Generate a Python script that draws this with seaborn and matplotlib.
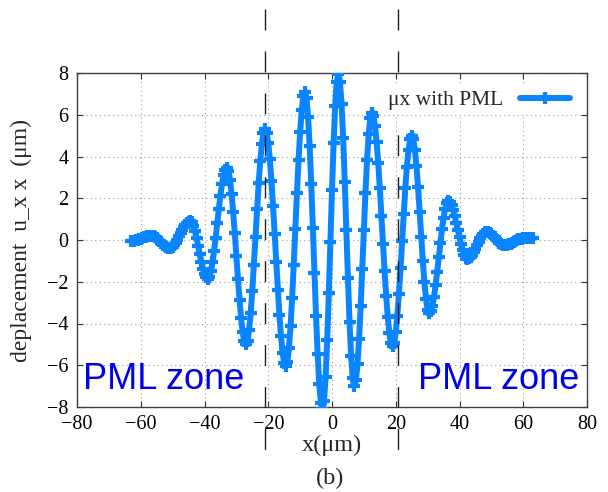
import numpy as np
import pandas as pd
import matplotlib
matplotlib.use("Agg")
import matplotlib.pyplot as plt
import matplotlib.transforms as mtransforms
import seaborn as sns

# ---- data ----
x_start, x_stop, x_step = -63.0, 63.0, 0.5
ux_pml = [
    -0.05, -0.05, -0.04, -0.02, 0.00, 0.03, 0.06, 0.09, 0.12, 0.15, 0.17, 0.19, 0.20, 0.20,
    0.19, 0.15, 0.10, 0.02, -0.06, -0.14, -0.22, -0.30, -0.35, -0.39, -0.40,
    -0.38, -0.33, -0.24, -0.12, 0.02, 0.17, 0.33, 0.48, 0.62, 0.74, 0.83, 0.88, 0.90,
    0.84, 0.68, 0.43, 0.10, -0.28, -0.67, -1.05, -1.38, -1.63, -1.79, -1.85,
    -1.76, -1.50, -1.07, -0.53, 0.11, 0.80, 1.49, 2.13, 2.67, 3.10, 3.36, 3.45,
    3.31, 2.88, 2.21, 1.34, 0.32, -0.78, -1.87, -2.89, -3.76, -4.43, -4.86, -5.00,
    -4.82, -4.31, -3.49, -2.43, -1.18, 0.15, 1.48, 2.73, 3.79, 4.61, 5.12, 5.30,
    5.13, 4.65, 3.87, 2.85, 1.64, 0.31, -1.06, -2.39, -3.60, -4.62, -5.40, -5.88, -6.05,
    -5.83, -5.17, -4.12, -2.76, -1.18, 0.53, 2.23, 3.81, 5.17, 6.22, 6.88, 7.10,
    6.79, 5.89, 4.48, 2.66, 0.58, -1.58, -3.66, -5.48, -6.89, -7.79, -8.10,
    -7.71, -6.57, -4.79, -2.55, -0.08, 2.40, 4.64, 6.42, 7.56, 7.95,
    7.58, 6.52, 4.87, 2.78, 0.48, -1.83, -3.92, -5.57, -6.63, -7.00,
    -6.73, -5.96, -4.74, -3.17, -1.38, 0.48, 2.27, 3.84, 5.06, 5.83, 6.10,
    5.94, 5.46, 4.69, 3.68, 2.49, 1.17, -0.17, -1.49, -2.68, -3.69, -4.46, -4.94, -5.10,
    -4.93, -4.42, -3.62, -2.58, -1.36, -0.05, 1.26, 2.48, 3.52, 4.32, 4.83, 5.00,
    4.83, 4.33, 3.53, 2.52, 1.35, 0.15, -1.02, -2.03, -2.83, -3.33, -3.50,
    -3.41, -3.14, -2.72, -2.16, -1.52, -0.83, -0.13, 0.51, 1.07, 1.49, 1.76, 1.85,
    1.80, 1.67, 1.45, 1.16, 0.83, 0.48, 0.12, -0.21, -0.50, -0.72, -0.85, -0.90,
    -0.88, -0.81, -0.71, -0.58, -0.42, -0.25, -0.08, 0.08, 0.21, 0.31, 0.38, 0.40,
    0.39, 0.35, 0.29, 0.21, 0.12, 0.03, -0.06, -0.14, -0.20, -0.24, -0.25,
    -0.24, -0.23, -0.20, -0.17, -0.13, -0.09, -0.04, 0.00, 0.03, 0.06, 0.07, 0.08,
    0.08, 0.09, 0.09, 0.10, 0.10, 0.10,
]
pml_bounds = [-21.0, 20.8]
x_ticks = [-80, -60, -40, -20, 0, 20, 40, 60, 80]
y_ticks = [-8, -6, -4, -2, 0, 2, 4, 6, 8]
series_label = "\u03bcx with PML"
zone_label = "PML zone"

x_grid = np.arange(x_start, x_stop + x_step / 2, x_step)
df = pd.DataFrame({"x": x_grid, "u": ux_pml})

# ---- style ----
sns.set_style("ticks")
plt.rcParams["font.family"] = ["Liberation Serif", "DejaVu Serif"]

line_color = "#0a84ff"

fig = plt.figure(figsize=(6.08, 4.92), dpi=100)
ax = fig.add_axes([77 / 608, 1 - 407 / 492, (587 - 77) / 608, (407 - 73) / 492])

sns.lineplot(data=df, x="x", y="u", ax=ax, color=line_color, linewidth=4.3,
             marker="+", markersize=8, markeredgewidth=3.0,
             markeredgecolor=line_color, label=series_label, zorder=3)

ax.set_xlim(-80, 80)
ax.set_ylim(-8, 8)
ax.set_xticks(x_ticks)
ax.set_yticks(y_ticks)
ax.grid(True, linestyle=(0, (1, 3)), color="#9a9a9a", linewidth=0.8)
ax.tick_params(direction="in", top=True, right=True, length=4, width=0.8,
               labelsize=14.5, colors="#333333", labelcolor="black", pad=6)
for s in ax.spines.values():
    s.set_color("#404040")
    s.set_linewidth(1.0)

ax.set_xlabel("x(\u03bcm)", fontsize=17.5, labelpad=0)
ax.set_ylabel("deplacement  u_x x  (\u03bcm)", fontsize=17, labelpad=11)

# dashed PML boundaries extending beyond the axes (drawn top to bottom)
trans = mtransforms.blended_transform_factory(ax.transData, ax.transAxes)
for xb in pml_bounds:
    ax.plot([xb, xb], [1.1916, -0.1347], transform=trans, color="#202020",
            linewidth=1.0, linestyle=(0, (15.1, 15.1)), clip_on=False, zorder=4)

ax.text(-78, -7.15, zone_label, color="#0000ee", fontsize=26,
        family=["Liberation Sans", "DejaVu Sans"], ha="left", va="baseline", zorder=5)
ax.text(77.5, -7.15, zone_label, color="#0000ee", fontsize=26,
        family=["Liberation Sans", "DejaVu Sans"], ha="right", va="baseline", zorder=5)

leg = ax.legend(loc="upper right", markerfirst=False, frameon=True, fancybox=False,
                facecolor="white", edgecolor="none", framealpha=1.0,
                fontsize=15.5, handlelength=2.3, numpoints=1,
                borderpad=0.2, borderaxespad=0.6, handletextpad=0.8)
leg.set_zorder(6)

fig.text(330 / 608, 1 - 478 / 492, "(b)", ha="center", va="center", fontsize=17.5)

fig.savefig("out.png", dpi=100)
